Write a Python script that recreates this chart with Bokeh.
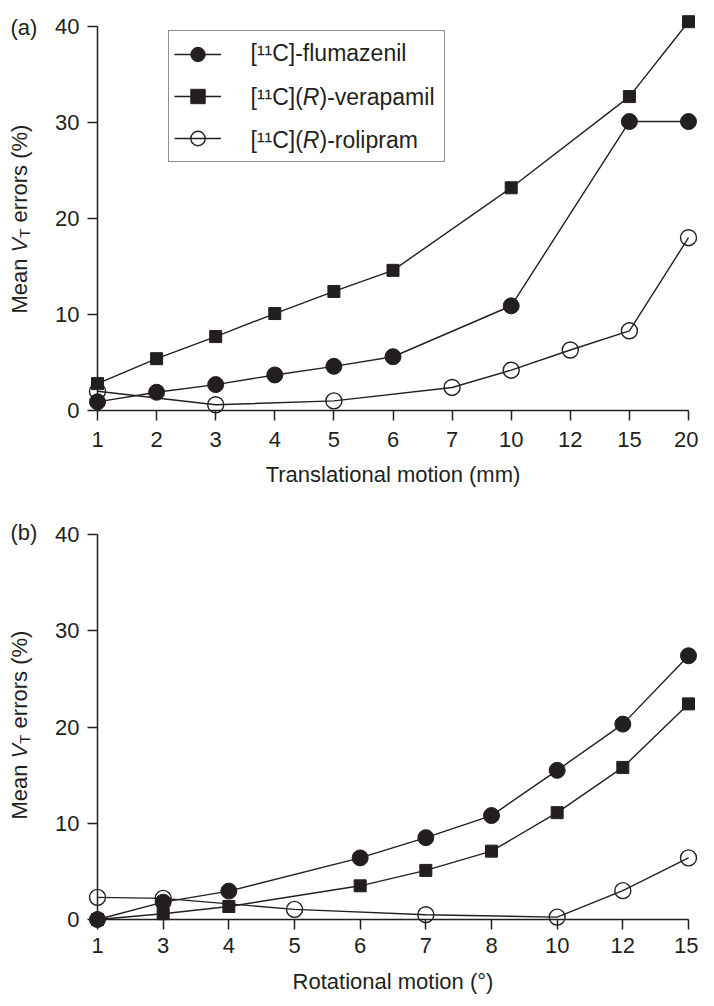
import math
from bokeh.plotting import figure
from bokeh.models import Range1d, FixedTicker, Label, Legend, LegendItem
from bokeh.layouts import column
from bokeh.core.properties import value
from bokeh.embed import file_html
from bokeh.resources import INLINE

# ---------------- data ----------------
trans_cats = ["1", "2", "3", "4", "5", "6", "7", "10", "12", "15", "20"]
flu_a_x = ["1", "2", "3", "4", "5", "6", "10", "15", "20"]
flu_a_y = [0.9, 1.9, 2.7, 3.7, 4.6, 5.6, 10.9, 30.1, 30.1]
ver_a_x = ["1", "2", "3", "4", "5", "6", "10", "15", "20"]
ver_a_y = [2.8, 5.4, 7.7, 10.1, 12.4, 14.6, 23.2, 32.7, 40.5]
rol_a_x = ["1", "3", "5", "7", "10", "12", "15", "20"]
rol_a_y = [2.0, 0.6, 1.0, 2.4, 4.2, 6.3, 8.3, 18.0]

rot_cats = ["1", "3", "4", "5", "6", "7", "8", "10", "12", "15"]
flu_b_x = ["1", "3", "4", "6", "7", "8", "10", "12", "15"]
flu_b_y = [0.0, 1.8, 2.95, 6.4, 8.5, 10.8, 15.5, 20.3, 27.4]
ver_b_x = ["1", "3", "4", "6", "7", "8", "10", "12", "15"]
ver_b_y = [0.0, 0.6, 1.35, 3.5, 5.1, 7.1, 11.1, 15.8, 22.4]
rol_b_x = ["1", "3", "5", "7", "10", "12", "15"]
rol_b_y = [2.3, 2.2, 1.05, 0.5, 0.25, 3.0, 6.4]

y_ticks = [0, 10, 20, 30, 40]
x_title_a = "Translational motion (mm)"
x_title_b = "Rotational motion (°)"

# ---------------- style / layout ----------------
C = "#231f20"
FONT = "Liberation Sans"
FS = "22px"
LFS = 23.0
W = 698


def make_panel(cats, height, page_top, x_first_px, x_last_px, y0_px, y40_px,
               lab_standoff, title_standoff, xtitle):
    n = len(cats) - 1
    frame_left = 0
    frame_right = W
    frame_top = page_top
    frame_bottom = page_top + height
    xppu = (x_last_px - x_first_px) / n
    yppu = (y0_px - y40_px) / 40.0
    xr = Range1d((frame_left - x_first_px) / xppu, (frame_right - x_first_px) / xppu)
    yr = Range1d((y0_px - frame_bottom) / yppu, (y0_px - frame_top) / yppu)
    p = figure(width=W, height=height, x_range=xr, y_range=yr,
               output_backend="svg", toolbar_location=None,
               min_border_left=0, min_border_right=0,
               min_border_top=0, min_border_bottom=0)
    p.outline_line_color = None
    p.xgrid.grid_line_color = None
    p.ygrid.grid_line_color = None
    p.background_fill_color = "white"
    p.border_fill_color = "white"

    xa = p.xaxis[0]
    ya = p.yaxis[0]
    xa.fixed_location = 0
    ya.fixed_location = 0
    xa.bounds = (0, n)
    ya.bounds = (0, 40)
    xa.ticker = FixedTicker(ticks=list(range(len(cats))))
    xa.major_label_overrides = {i: c for i, c in enumerate(cats)}
    ya.ticker = FixedTicker(ticks=y_ticks)
    for ax in (xa, ya):
        ax.axis_line_color = C
        ax.axis_line_width = 1.5
        ax.major_tick_line_color = C
        ax.major_tick_line_width = 1.5
        ax.major_tick_in = 0
        ax.major_tick_out = 10
        ax.minor_tick_line_color = None
        ax.major_label_text_font = FONT
        ax.major_label_text_font_size = FS
        ax.major_label_text_color = C
    xa.major_label_standoff = lab_standoff
    ya.major_label_standoff = 8
    xa.axis_label = xtitle
    xa.axis_label_text_font = FONT
    xa.axis_label_text_font_size = FS
    xa.axis_label_text_font_style = "normal"
    xa.axis_label_text_color = C
    xa.axis_label_standoff = title_standoff
    geo = dict(frame_left=frame_left, frame_bottom=frame_bottom)
    return p, geo


def draw_series(p, cats, xs, ys, kind):
    xi = [cats.index(c) for c in xs]
    lr = p.line(xi, ys, line_color=C, line_width=1.4)
    if kind == "fc":
        sr = p.scatter(xi, ys, marker="circle", size=16, fill_color=C, line_color=C)
    elif kind == "sq":
        sr = p.scatter(xi, ys, marker="square", size=12, fill_color=C, line_color=C)
    else:
        sr = p.scatter(xi, ys, marker="circle", size=16, fill_color=None,
                       line_color=C, line_width=1.4)
    return [lr, sr]


def lab(p, geo, page_x, page_y, text, size=FS, style="normal", angle=0.0,
        baseline="alphabetic", align="left"):
    p.add_layout(Label(x=page_x - geo["frame_left"], y=geo["frame_bottom"] - page_y,
                       x_units="screen", y_units="screen", text=text,
                       text_font=FONT, text_font_size=size,
                       text_font_style=style, text_color=C, angle=angle,
                       text_align=align, text_baseline=baseline))


def y_title(p, geo, base_x, start_y):
    # (text, style, size px, advance in em incl. following space, baseline shift px)
    parts = [("Mean", "normal", 22.0, 2.778, 0),
             ("V", "italic", 22.0, 0.667, 0),
             ("T", "normal", 15.0, 0.611 + 0.278 * 22.0 / 15.0, 5),
             ("errors (%)", "normal", 22.0, 4.444, 0)]
    y = start_y
    for t, st, sz, em, sh in parts:
        lab(p, geo, base_x + sh, y, t, size=f"{sz}px", style=st, angle=math.pi / 2)
        y -= em * sz


# ---------------- panel (a) ----------------
pa, ga = make_panel(trans_cats, 492, 0, 97, 688, 410, 26, 11, 12, x_title_a)
r_rol_a = draw_series(pa, trans_cats, rol_a_x, rol_a_y, "oc")
r_flu_a = draw_series(pa, trans_cats, flu_a_x, flu_a_y, "fc")
r_ver_a = draw_series(pa, trans_cats, ver_a_x, ver_a_y, "sq")

leg = Legend(items=[LegendItem(label=value(" "), renderers=r_flu_a),
                    LegendItem(label=value(" "), renderers=r_ver_a),
                    LegendItem(label=value(" "), renderers=r_rol_a)],
             location=(168 - ga["frame_left"], ga["frame_bottom"] - 162),
             orientation="vertical", padding=5, spacing=6,
             glyph_width=47, glyph_height=36, label_height=36,
             label_standoff=30, label_width=188,
             label_text_font=FONT, label_text_font_size=FS,
             border_line_color=C, border_line_width=1.5,
             background_fill_color="white", background_fill_alpha=0.0)
pa.add_layout(leg)

row_y = [52, 96, 139]
lfs = f"{LFS}px"
lab(pa, ga, 250, row_y[0], "[¹¹C]-flumazenil", size=lfs, baseline="middle")
pre_w = 2.277 * LFS
r_w = 0.722 * LFS
for yy, rest in ((row_y[1], ")-verapamil"), (row_y[2], ")-rolipram")):
    lab(pa, ga, 250, yy, "[¹¹C](", size=lfs, baseline="middle")
    lab(pa, ga, 250 + pre_w, yy, "R", size=lfs, style="italic", baseline="middle")
    lab(pa, ga, 250 + pre_w + r_w, yy, rest, size=lfs, baseline="middle")

y_title(pa, ga, 19, 313)
lab(pa, ga, 10, 27, "(a)")

# ---------------- panel (b) ----------------
pb, gb = make_panel(rot_cats, 508, 492, 97, 688, 919, 534, 8, 13, x_title_b)
draw_series(pb, rot_cats, rol_b_x, rol_b_y, "oc")
draw_series(pb, rot_cats, ver_b_x, ver_b_y, "sq")
draw_series(pb, rot_cats, flu_b_x, flu_b_y, "fc")
y_title(pb, gb, 19, 819)
lab(pb, gb, 10, 532, "(b)")

layout = column(pa, pb, spacing=0)
open("out.html", "w").write(file_html(layout, INLINE))
